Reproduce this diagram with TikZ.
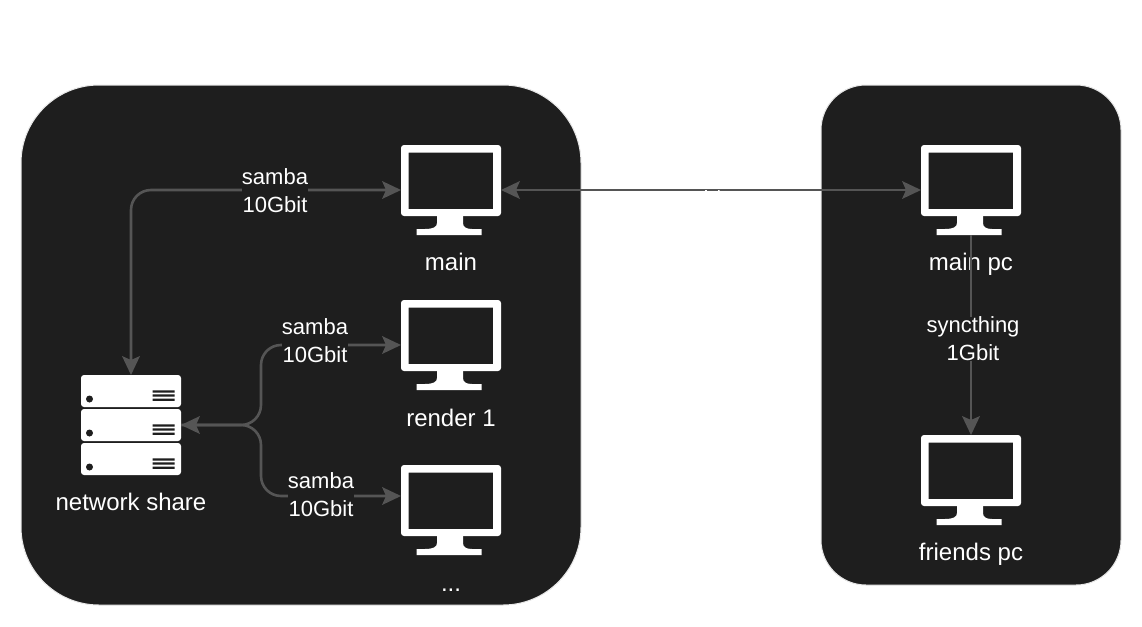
\documentclass[tikz,border=0pt]{standalone}
\usepackage{fontspec}
\setmainfont{Liberation Sans}
\usetikzlibrary{arrows.meta}
\definecolor{panelbg}{HTML}{1E1E1E}
\definecolor{panelrim}{HTML}{E8E8E8}
\definecolor{linkgray}{HTML}{555555}
\tikzset{
  panel/.style={fill=panelbg,draw=panelrim,line width=1pt},
  device/.style={minimum width=100pt,inner sep=0pt,outer sep=0pt},
  caption/.style={text=white,font=\fontsize{24}{28}\selectfont,inner sep=0pt,align=center,anchor=base},
  linklabel/.style={text=white,fill=panelbg,font=\fontsize{22}{28}\selectfont,inner sep=0pt,align=center},
  link/.style={draw=linkgray,line width=2.6pt,rounded corners=20pt},
  tip/.style={-{Stealth[length=19pt,width=18pt,inset=4pt,line width=0pt]}},
  tips/.style={{Stealth[length=19pt,width=18pt,inset=4pt,line width=0pt]}-{Stealth[length=19pt,width=18pt,inset=4pt,line width=0pt]}},
}
% #1 name, #2 left, #3 top
\newcommand{\monitorat}[3]{%
  \node[device,minimum height=90pt,anchor=north west] (#1) at (#2,#3) {};
  \begin{scope}[shift={(#2,#3)}]
    \fill[white,even odd rule,rounded corners=3pt] (0,0) rectangle (100,71)
      [sharp corners] (7.7,7.5) rectangle (92,64);
    \fill[white] (36,70) -- (36,78) .. controls (36,82) and (32,84) .. (24,84) -- (15.7,84) -- (15.7,90) -- (80.7,90)
      -- (80.7,84) -- (71,84) .. controls (65,84) and (62,82) .. (62,78) -- (62,70) -- cycle;
  \end{scope}}
% #1 name, #2 left, #3 top
\newcommand{\rackunit}[3]{%
  \begin{scope}[shift={(#2,#3)}]
    \fill[white,rounded corners=3pt] (0,0) rectangle (100,32);
    \fill[panelbg] (8.5,24) circle (3.5);
    \fill[panelbg] (71.7,15.3) rectangle (93.7,17.5) (71.7,19.4) rectangle (93.7,21.6) (71.7,23.6) rectangle (93.7,25.8);
  \end{scope}}
\begin{document}
\begin{tikzpicture}[x=1pt,y=-1pt]
\useasboundingbox (0,0) rectangle (1142,626);
\fill[white] (0,0) rectangle (1142,626);
\draw[panel,rounded corners=78pt] (21,85) rectangle (581,605);
\draw[panel,rounded corners=45pt] (821,85) rectangle (1121,585);

\monitorat{mainbox}{401}{145}
\monitorat{renderbox}{401}{300}
\monitorat{morebox}{401}{465}
\monitorat{mainpc}{921}{145}
\monitorat{friendspc}{921}{435}

\node[device,minimum height=100pt,anchor=north west] (share) at (81,375) {};
\rackunit{a}{81}{375}
\rackunit{b}{81}{409}
\rackunit{c}{81}{443}

\node[caption] (capmain) at (451,270.5) {main};
\node[caption] (caprender) at (451,426.5) {render 1};
\node[caption] (capmore) at (451,591) {...};
\node[caption] (capshare) at (131,510.5) {network share};
\node[caption] (cappc) at (971,270.5) {main pc};
\node[caption] (capfriends) at (971,560.5) {friends pc};

\coordinate (moreport) at (401,496);

\draw[link,tips] (mainbox.west) -| (share.north);
\draw[link,tips] (share.east) -- (261,425) |- (renderbox.west);
\draw[link,tip] (share.east) -- (261,425) |- (moreport);
\draw[link,tips] (mainbox.east) -- (mainpc.west);
\draw[link,tip] (mainpc.south) -- (friendspc.north);

\fill[white] (705.2,190.2) rectangle (706.8,191.2) (718,190.2) rectangle (719.6,191.2);

\node[linklabel] (l1) at (275,190.5) {samba\\10Gbit};
\node[linklabel] (l2) at (315,341) {samba\\10Gbit};
\node[linklabel] (l3) at (321,495) {samba\\10Gbit};
\node[linklabel] (l4) at (973,339) {syncthing\\1Gbit};
\end{tikzpicture}
\end{document}
